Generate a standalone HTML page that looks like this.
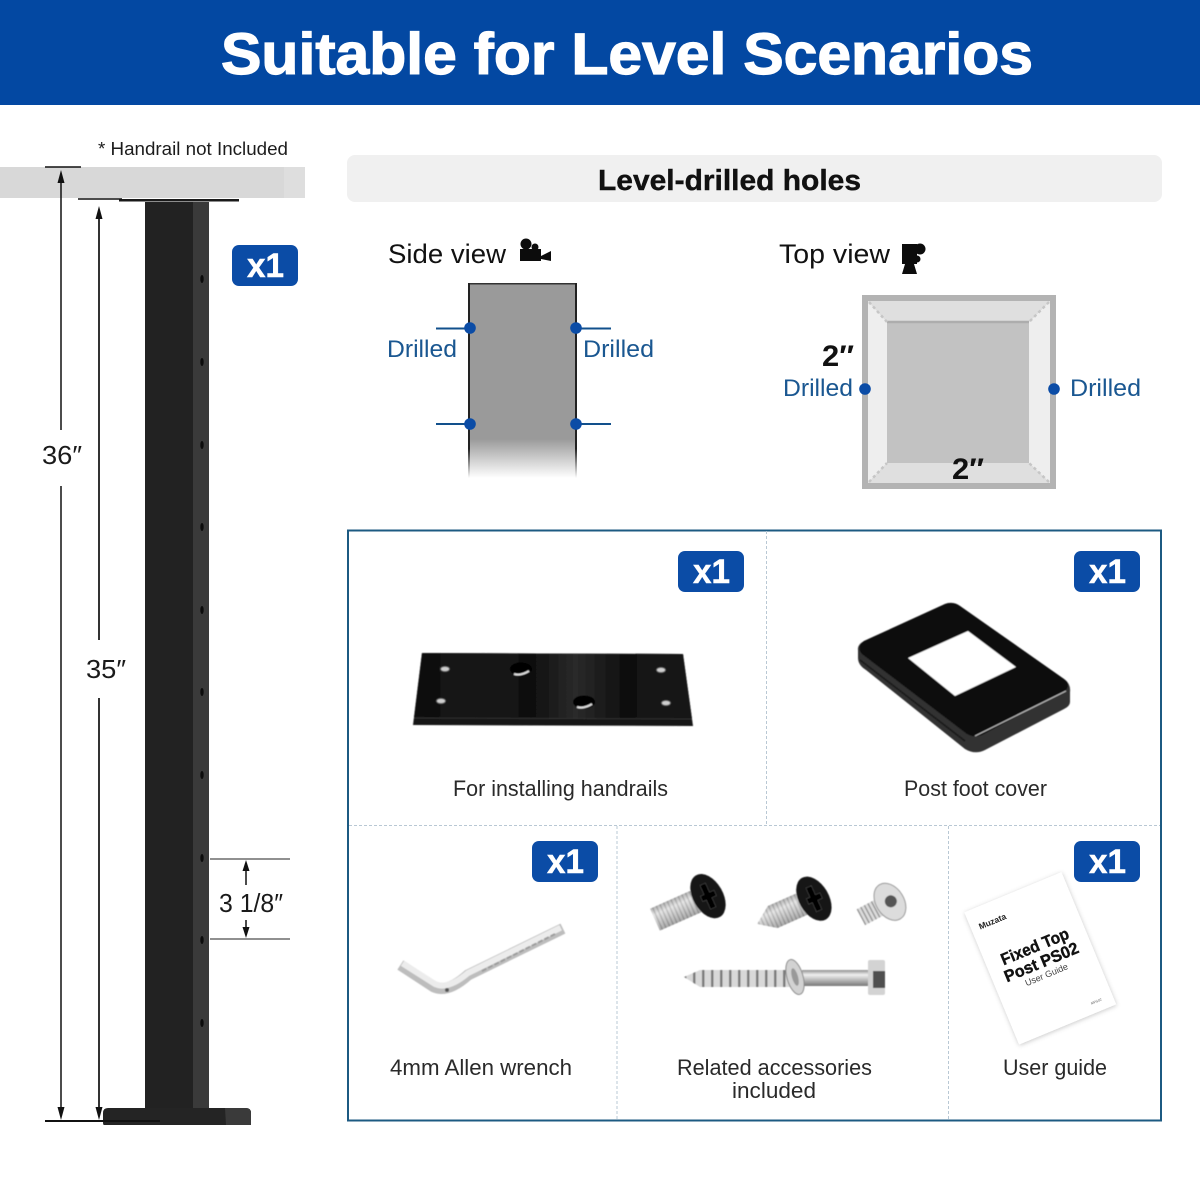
<!DOCTYPE html>
<html lang="en">
<head>
<meta charset="utf-8">
<title>Suitable for Level Scenarios</title>
<style>
html,body{margin:0;padding:0;background:#fff}
svg{display:block}
text{font-family:"Liberation Sans",sans-serif}
</style>
</head>
<body>
<svg width="1200" height="1200" viewBox="0 0 1200 1200" xmlns="http://www.w3.org/2000/svg">
<defs>
<linearGradient id="fade" x1="0" y1="0" x2="0" y2="1">
  <stop offset="0" stop-color="#9a9a9a"/><stop offset=".8" stop-color="#9a9a9a"/><stop offset="1" stop-color="#fff"/>
</linearGradient>
<linearGradient id="fadeK" x1="0" y1="0" x2="0" y2="1">
  <stop offset="0" stop-color="#222"/><stop offset=".85" stop-color="#222"/><stop offset="1" stop-color="#fff"/>
</linearGradient>
<linearGradient id="plate" x1="0" y1="0" x2="1" y2="0">
  <stop offset="0" stop-color="#0e0e0e"/><stop offset=".28" stop-color="#191919"/><stop offset=".42" stop-color="#0e0e0e"/>
  <stop offset=".58" stop-color="#2a2a2a"/><stop offset=".75" stop-color="#101010"/><stop offset="1" stop-color="#181818"/>
</linearGradient>
<linearGradient id="steel" x1="0" y1="0" x2="0" y2="1">
  <stop offset="0" stop-color="#8e8e8e"/><stop offset=".3" stop-color="#f0f0f0"/><stop offset=".65" stop-color="#b5b5b5"/><stop offset="1" stop-color="#777"/>
</linearGradient>
<pattern id="thread" width="4" height="4" patternUnits="userSpaceOnUse">
  <rect width="4" height="4" fill="#dcdcdc"/><rect width="1.500" height="4" fill="#999"/>
</pattern>
<pattern id="coil" width="9" height="4" patternUnits="userSpaceOnUse">
  <rect width="9" height="4" fill="#d8d8d8"/><rect width="2.500" height="4" fill="#7b7b7b"/>
</pattern>
<filter id="soft"><feGaussianBlur stdDeviation=".5"/></filter>
<filter id="shadow" x="-20%" y="-20%" width="140%" height="140%"><feDropShadow dx="0" dy="1" stdDeviation="2.500" flood-color="#000" flood-opacity=".22"/></filter>
</defs>

<rect width="1200" height="1200" fill="#fff"/>

<!-- Header -->
<rect width="1200" height="105" fill="#0348a2"/>
<text x="221" y="74" font-size="58" font-weight="700" fill="#fff" stroke="#fff" stroke-width="1.200" textLength="812" lengthAdjust="spacingAndGlyphs">Suitable for Level Scenarios</text>

<!-- Left: handrail and post -->
<text x="98" y="155" font-size="18" fill="#1c1c1c" textLength="190" lengthAdjust="spacingAndGlyphs">* Handrail not Included</text>
<rect x="0" y="167" width="305" height="31" fill="#d8d8d8"/>
<rect x="284" y="167" width="21" height="31" fill="#dedede"/>
<rect x="119" y="199" width="120" height="2.500" fill="#1a1a1a"/>
<rect x="145" y="202" width="48" height="906" fill="#222"/>
<rect x="193" y="202" width="16" height="906" fill="#3a3a3a"/>
<g fill="#0c0c0c">
<ellipse cx="202" cy="279" rx="1.700" ry="4"/><ellipse cx="202" cy="362" rx="1.700" ry="4"/>
<ellipse cx="202" cy="445" rx="1.700" ry="4"/><ellipse cx="202" cy="527" rx="1.700" ry="4"/>
<ellipse cx="202" cy="610" rx="1.700" ry="4"/><ellipse cx="202" cy="692" rx="1.700" ry="4"/>
<ellipse cx="202" cy="775" rx="1.700" ry="4"/><ellipse cx="202" cy="858" rx="1.700" ry="4"/>
<ellipse cx="202" cy="940" rx="1.700" ry="4"/><ellipse cx="202" cy="1023" rx="1.700" ry="4"/>
</g>
<path d="M108 1108H246Q251 1108 251 1113V1125H104Q103 1125 103 1122V1113Q103 1108 108 1108Z" fill="#242424"/>
<path d="M225 1108H246Q251 1108 251 1113V1125H226Z" fill="#3a3a3a"/>

<!-- Dimensions -->
<g stroke="#111" stroke-width="1.500" fill="none">
<path d="M45 167H81"/>
<path d="M78 199H122"/>
<path d="M45 1121H160" stroke-width="2"/>
<path d="M61 175V430M61 486V1112"/>
<path d="M99 212V640M99 698V1112" stroke="#333" stroke-width="2"/>
<path d="M210 859H290M210 939H290" stroke="#222" stroke-width="1"/>
<path d="M246 866V885M246 920V932"/>
</g>
<g fill="#111">
<path d="M61 170l-3.500 13h7z"/>
<path d="M99 206l-3.500 13h7z"/>
<path d="M61 1120l-3.500 -13h7z"/>
<path d="M99 1120l-3.500 -13h7z"/>
<path d="M246 860l-3.500 11h7z"/>
<path d="M246 938l-3.500 -11h7z"/>
</g>
<text x="42" y="464" font-size="26" fill="#1a1a1a" textLength="40" lengthAdjust="spacingAndGlyphs">36″</text>
<text x="86" y="678" font-size="26" fill="#1a1a1a" textLength="40" lengthAdjust="spacingAndGlyphs">35″</text>
<text x="219" y="912" font-size="26" fill="#1a1a1a" textLength="64" lengthAdjust="spacingAndGlyphs">3 1/8″</text>

<!-- Level-drilled bar -->
<rect x="347" y="155" width="815" height="47" rx="8" fill="#f0f0f0"/>
<text x="598" y="190" font-size="29" font-weight="700" fill="#111" stroke="#111" stroke-width=".4" textLength="263" lengthAdjust="spacingAndGlyphs">Level-drilled holes</text>

<!-- Side view -->
<text x="388" y="263" font-size="27" fill="#111" textLength="118" lengthAdjust="spacingAndGlyphs">Side view</text>
<g fill="#0c0c0c">
<circle cx="526" cy="244" r="5.500"/><circle cx="535" cy="247" r="3.500"/>
<rect x="520" y="249" width="21" height="12"/>
<path d="M541 256l10 -5v10l-10 -2z"/>
</g>
<rect x="468" y="283" width="109" height="195" fill="url(#fade)"/>
<rect x="468" y="283" width="109" height="1.500" fill="#333"/>
<rect x="468" y="283" width="2" height="195" fill="url(#fadeK)"/>
<rect x="575" y="283" width="2" height="195" fill="url(#fadeK)"/>
<g stroke="#12508c" stroke-width="2">
<path d="M436 328.500H470M576 328.500H611M436 424H470M576 424H611"/>
</g>
<g fill="#0b4ca6">
<circle cx="470" cy="328" r="5.800"/><circle cx="576" cy="328" r="5.800"/>
<circle cx="470" cy="424" r="5.800"/><circle cx="576" cy="424" r="5.800"/>
</g>
<g font-size="24" fill="#1a5791">
<text x="387" y="357" textLength="70" lengthAdjust="spacingAndGlyphs">Drilled</text>
<text x="583" y="357" textLength="71" lengthAdjust="spacingAndGlyphs">Drilled</text>
<text x="783" y="396" textLength="70" lengthAdjust="spacingAndGlyphs">Drilled</text>
<text x="1070" y="396" textLength="71" lengthAdjust="spacingAndGlyphs">Drilled</text>
</g>

<!-- Top view -->
<text x="779" y="263" font-size="27" fill="#111" textLength="111" lengthAdjust="spacingAndGlyphs">Top view</text>
<g fill="#0c0c0c">
<rect x="902" y="244" width="15" height="20"/>
<circle cx="920" cy="249" r="5.500"/><circle cx="917" cy="259" r="3.500"/>
<path d="M905 264h9l3 10h-15z"/>
</g>
<rect x="862" y="295" width="194" height="194" fill="#b3b3b3"/>
<path d="M868 301H1050L1029 322H887Z" fill="#dfdfdf"/>
<path d="M868 483H1050L1029 463H887Z" fill="#dfdfdf"/>
<path d="M868 301L887 322V463L868 483Z" fill="#eeeeee"/>
<path d="M1050 301L1029 322V463L1050 483Z" fill="#eeeeee"/>
<rect x="887" y="322" width="142" height="141" fill="#c2c2c2"/>
<path d="M887 322H1029" stroke="#adadad" stroke-width="2.500"/>
<g stroke="#c6c6c6" stroke-width="2.500" stroke-dasharray="3 3" fill="none">
<path d="M869 302L887 322M1049 302L1029 322M869 482L887 463M1049 482L1029 463"/>
</g>
<circle cx="865" cy="389" r="5.800" fill="#0b4ca6"/>
<circle cx="1054" cy="389" r="5.800" fill="#0b4ca6"/>
<text x="822" y="366" font-size="30" font-weight="700" fill="#111" textLength="32" lengthAdjust="spacingAndGlyphs">2″</text>
<text x="952" y="479" font-size="30" font-weight="700" fill="#111" textLength="32" lengthAdjust="spacingAndGlyphs">2″</text>

<!-- Parts frame -->
<rect x="348" y="530.500" width="813" height="590" fill="#fff" stroke="#1c5a82" stroke-width="2"/>
<g stroke="#b9c8d4" stroke-width="1" stroke-dasharray="3 2" fill="none">
<path d="M349 825.500H1160M766.500 531V825M617 826V1120M948.500 826V1120"/>
</g>

<!-- Badges -->
<g fill="#0b4ca6">
<rect x="232" y="245" width="66" height="41" rx="7"/>
<rect x="678" y="551" width="66" height="41" rx="7"/>
<rect x="1074" y="551" width="66" height="41" rx="7"/>
<rect x="532" y="841" width="66" height="41" rx="7"/>
<rect x="1074" y="841" width="66" height="41" rx="7"/>
</g>
<g font-size="34" font-weight="700" fill="#fff" stroke="#fff" stroke-width=".5">
<text x="247" y="277" textLength="37" lengthAdjust="spacingAndGlyphs">x1</text>
<text x="693" y="583" textLength="37" lengthAdjust="spacingAndGlyphs">x1</text>
<text x="1089" y="583" textLength="37" lengthAdjust="spacingAndGlyphs">x1</text>
<text x="547" y="873" textLength="37" lengthAdjust="spacingAndGlyphs">x1</text>
<text x="1089" y="873" textLength="37" lengthAdjust="spacingAndGlyphs">x1</text>
</g>

<!-- Handrail plate -->
<g filter="url(#soft)">
<path d="M422 653L683 654L693 726L413 725Z" fill="#141414"/>
<path d="M422 653L683 654L692 719L414 718Z" fill="url(#plate)"/>
<path d="M414 718L692 719" stroke="#333" stroke-width="1"/>
<ellipse cx="521" cy="669" rx="11" ry="6.500" fill="#000"/>
<path d="M514 674Q521 676 529 671" stroke="#ddd" stroke-width="2" fill="none"/>
<ellipse cx="584" cy="702" rx="11" ry="6.500" fill="#000"/>
<path d="M577 707Q584 709 592 704" stroke="#ddd" stroke-width="2" fill="none"/>
<g fill="#cfcfcf" stroke="#555">
<ellipse cx="445" cy="669" rx="4.500" ry="2.500"/><ellipse cx="661" cy="670" rx="4.500" ry="2.500"/>
<ellipse cx="441" cy="701" rx="4.500" ry="2.500"/><ellipse cx="666" cy="703" rx="4.500" ry="2.500"/>
</g>
</g>

<!-- Foot cover -->
<g filter="url(#soft)">
<path d="M858 650Q857 645 864 641L945 604Q953 601 960 606L1064 679Q1071 684 1070 692V702Q1070 706 1064 709L985 750Q975 755 965 749L866 670Q858 665 858 658Z" fill="#333"/>
<path d="M864 641L945 604Q953 601 960 606L1064 679Q1071 684 1066 690L982 735Q974 738 967 734L862 654Q856 647 864 641Z" fill="#0b0b0b"/>
<path d="M860 660L965 741" stroke="#161616" stroke-width="1.500" fill="none"/>
<path d="M975 736L1066 691" stroke="#bbb" stroke-width="1.200" fill="none"/>
<path d="M908 658L968 631L1016 667L955 696Z" fill="#fff"/>
</g>

<!-- Allen wrench -->
<g filter="url(#soft)">
<path d="M558 931L468 975Q448 993 434 987L405 968" fill="none" stroke="#bdbdbd" stroke-width="11" stroke-linecap="square"/>
<path d="M558 929L468 973Q448 990 435 984L405 965" fill="none" stroke="#ececec" stroke-width="6" stroke-linecap="square"/>
<path d="M555 934L480 972" fill="none" stroke="#9c9c9c" stroke-width="2" stroke-dasharray="5 2"/>
<circle cx="447" cy="990" r="2" fill="#555"/>
</g>

<!-- Screws -->
<g filter="url(#soft)">
<g transform="translate(697,901) rotate(-24)">
  <rect x="-46" y="-12" width="50" height="24" fill="url(#thread)"/>
  <rect x="-46" y="-12" width="50" height="24" fill="url(#steel)" opacity=".5"/>
  <ellipse cx="12" cy="0" rx="15" ry="24" fill="#161616" transform="rotate(-6 12 0)"/>
  <path d="M5 -3h4v-10h6v10h5v6h-5v10h-6v-10h-4z" fill="#000" stroke="#444" stroke-width=".6"/>
</g>
<g transform="translate(802,904) rotate(-24)">
  <path d="M-49 0L-32 -12H3V12H-32Z" fill="url(#thread)"/>
  <path d="M-49 0L-32 -12H3V12H-32Z" fill="url(#steel)" opacity=".5"/>
  <ellipse cx="13" cy="0" rx="15" ry="24" fill="#161616" transform="rotate(-6 13 0)"/>
  <path d="M6 -3h4v-10h6v10h5v6h-5v10h-6v-10h-4z" fill="#000" stroke="#444" stroke-width=".6"/>
</g>
<g transform="translate(882,906) rotate(-28)">
  <rect x="-24" y="-9" width="26" height="18" fill="url(#thread)"/>
  <ellipse cx="9" cy="0" rx="14" ry="20" fill="#dcdcdc" stroke="#999" transform="rotate(-4 9 0)"/>
  <circle cx="10" cy="0" r="6" fill="#555"/>
</g>
<g>
  <path d="M684 977L700 970H790V987H700Z" fill="url(#coil)"/>
  <rect x="802" y="970" width="68" height="16" fill="url(#steel)"/>
  <rect x="868" y="960" width="17" height="35" rx="2" fill="#d3d3d3"/>
  <rect x="873" y="971" width="12" height="17" fill="#4f4f4f"/>
  <ellipse cx="795" cy="977" rx="8" ry="18" fill="#d2d2d2" stroke="#888" transform="rotate(-16 795 977)"/>
  <ellipse cx="795" cy="977" rx="3" ry="9" fill="#999" transform="rotate(-16 795 977)"/>
</g>
</g>

<!-- User guide -->
<g transform="translate(1040,959) rotate(-22.500)">
  <rect x="-52" y="-72" width="105" height="143" fill="#fff" filter="url(#shadow)"/>
  <text x="-44" y="-50" font-size="8.500" font-weight="700" fill="#222">Muzata</text>
  <text x="0" y="-8" font-size="16.500" font-weight="700" fill="#111" stroke="#111" stroke-width=".4" text-anchor="middle" textLength="72" lengthAdjust="spacingAndGlyphs">Fixed Top</text>
  <text x="0" y="9" font-size="16.500" font-weight="700" fill="#111" stroke="#111" stroke-width=".4" text-anchor="middle" textLength="79" lengthAdjust="spacingAndGlyphs">Post PS02</text>
  <text x="0" y="20" font-size="9" fill="#444" text-anchor="middle">User Guide</text>
  <text x="30" y="62" font-size="3.500" fill="#666">MPS02</text>
</g>

<!-- Part labels -->
<g font-size="22" fill="#2a2a2a">
<text x="453" y="796" textLength="215" lengthAdjust="spacingAndGlyphs">For installing handrails</text>
<text x="904" y="796" textLength="143" lengthAdjust="spacingAndGlyphs">Post foot cover</text>
<text x="390" y="1075" textLength="182" lengthAdjust="spacingAndGlyphs">4mm Allen wrench</text>
<text x="677" y="1075" textLength="195" lengthAdjust="spacingAndGlyphs">Related accessories</text>
<text x="732" y="1098" textLength="84" lengthAdjust="spacingAndGlyphs">included</text>
<text x="1003" y="1075" textLength="104" lengthAdjust="spacingAndGlyphs">User guide</text>
</g>
</svg>
</body>
</html>
